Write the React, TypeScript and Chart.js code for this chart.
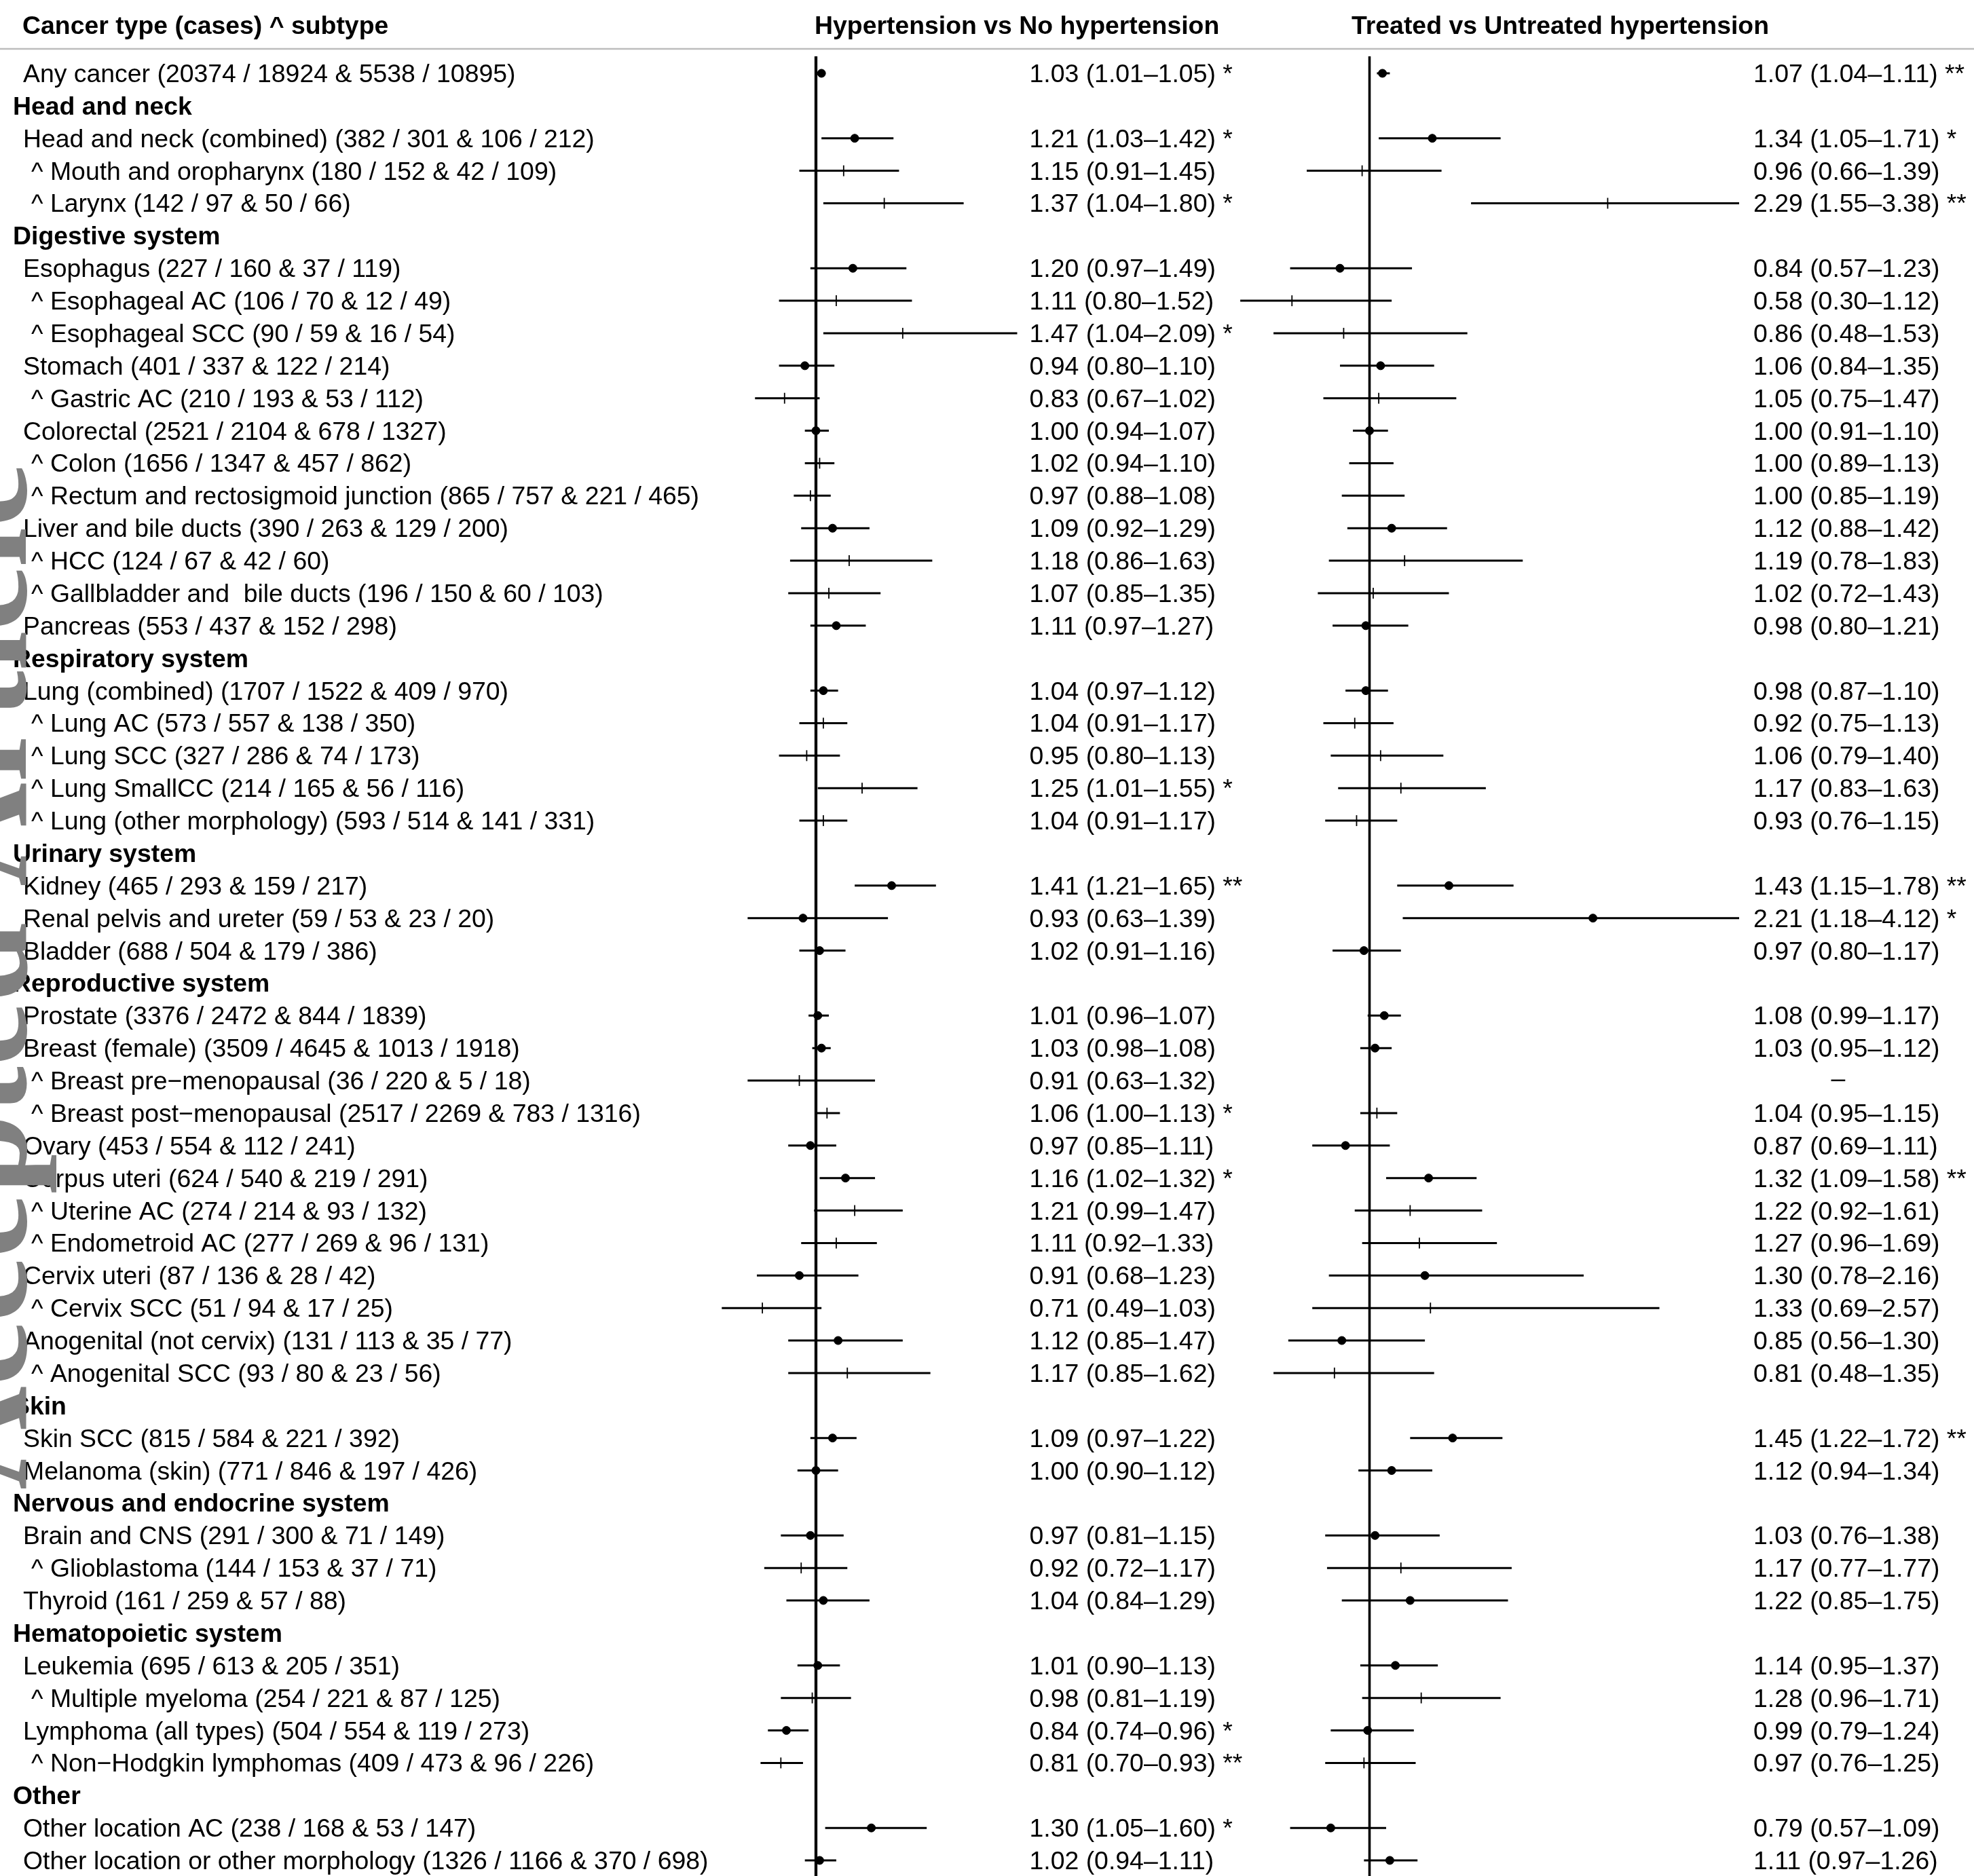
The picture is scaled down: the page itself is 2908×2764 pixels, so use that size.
import React, { useEffect, useRef } from 'react';
import { Chart, registerables } from 'chart.js';

Chart.register(...registerables);

// ---------------- DATA ----------------
const COLUMN_TITLE = 'Cancer type (cases) ^ subtype';
const PANEL_TITLES = ['Hypertension vs No hypertension', 'Treated vs Untreated hypertension'];
const REF_VALUE = 1;
const WATERMARK = 'Accepted Article';

// kind: h = group header, m = main cancer type, s = subtype (^)
const ROW_KINDS = [
  'm', 'h', 'm', 's', 's', 'h', 'm', 's', 's', 'm', 's', 'm', 's', 's', 'm', 's', 's', 'm',
  'h', 'm', 's', 's', 's', 's', 'h', 'm', 'm', 'm', 'h', 'm', 'm', 's', 's', 'm', 'm', 's',
  's', 'm', 's', 'm', 's', 'h', 'm', 'm', 'h', 'm', 's', 'm', 'h', 'm', 's', 'm', 's', 'h',
  'm', 'm',
];

const ROW_LABELS = [
  'Any cancer (20374 / 18924 & 5538 / 10895)',
  'Head and neck',
  'Head and neck (combined) (382 / 301 & 106 / 212)',
  'Mouth and oropharynx (180 / 152 & 42 / 109)',
  'Larynx (142 / 97 & 50 / 66)',
  'Digestive system',
  'Esophagus (227 / 160 & 37 / 119)',
  'Esophageal AC (106 / 70 & 12 / 49)',
  'Esophageal SCC (90 / 59 & 16 / 54)',
  'Stomach (401 / 337 & 122 / 214)',
  'Gastric AC (210 / 193 & 53 / 112)',
  'Colorectal (2521 / 2104 & 678 / 1327)',
  'Colon (1656 / 1347 & 457 / 862)',
  'Rectum and rectosigmoid junction (865 / 757 & 221 / 465)',
  'Liver and bile ducts (390 / 263 & 129 / 200)',
  'HCC (124 / 67 & 42 / 60)',
  'Gallbladder and  bile ducts (196 / 150 & 60 / 103)',
  'Pancreas (553 / 437 & 152 / 298)',
  'Respiratory system',
  'Lung (combined) (1707 / 1522 & 409 / 970)',
  'Lung AC (573 / 557 & 138 / 350)',
  'Lung SCC (327 / 286 & 74 / 173)',
  'Lung SmallCC (214 / 165 & 56 / 116)',
  'Lung (other morphology) (593 / 514 & 141 / 331)',
  'Urinary system',
  'Kidney (465 / 293 & 159 / 217)',
  'Renal pelvis and ureter (59 / 53 & 23 / 20)',
  'Bladder (688 / 504 & 179 / 386)',
  'Reproductive system',
  'Prostate (3376 / 2472 & 844 / 1839)',
  'Breast (female) (3509 / 4645 & 1013 / 1918)',
  'Breast pre\u2212menopausal (36 / 220 & 5 / 18)',
  'Breast post\u2212menopausal (2517 / 2269 & 783 / 1316)',
  'Ovary (453 / 554 & 112 / 241)',
  'Corpus uteri (624 / 540 & 219 / 291)',
  'Uterine AC (274 / 214 & 93 / 132)',
  'Endometroid AC (277 / 269 & 96 / 131)',
  'Cervix uteri (87 / 136 & 28 / 42)',
  'Cervix SCC (51 / 94 & 17 / 25)',
  'Anogenital (not cervix) (131 / 113 & 35 / 77)',
  'Anogenital SCC (93 / 80 & 23 / 56)',
  'Skin',
  'Skin SCC (815 / 584 & 221 / 392)',
  'Melanoma (skin) (771 / 846 & 197 / 426)',
  'Nervous and endocrine system',
  'Brain and CNS (291 / 300 & 71 / 149)',
  'Glioblastoma (144 / 153 & 37 / 71)',
  'Thyroid (161 / 259 & 57 / 88)',
  'Hematopoietic system',
  'Leukemia (695 / 613 & 205 / 351)',
  'Multiple myeloma (254 / 221 & 87 / 125)',
  'Lymphoma (all types) (504 / 554 & 119 / 273)',
  'Non\u2212Hodgkin lymphomas (409 / 473 & 96 / 226)',
  'Other',
  'Other location AC (238 / 168 & 53 / 147)',
  'Other location or other morphology (1326 / 1166 & 370 / 698)',
];

// Panel 1: Hypertension vs No hypertension
const HR1 = [1.03, null, 1.21, 1.15, 1.37, null, 1.20, 1.11, 1.47, 0.94, 0.83, 1.00, 1.02, 0.97, 1.09, 1.18, 1.07, 1.11,
  null, 1.04, 1.04, 0.95, 1.25, 1.04, null, 1.41, 0.93, 1.02, null, 1.01, 1.03, 0.91, 1.06, 0.97, 1.16, 1.21,
  1.11, 0.91, 0.71, 1.12, 1.17, null, 1.09, 1.00, null, 0.97, 0.92, 1.04, null, 1.01, 0.98, 0.84, 0.81, null,
  1.30, 1.02];
const LO1 = [1.01, null, 1.03, 0.91, 1.04, null, 0.97, 0.80, 1.04, 0.80, 0.67, 0.94, 0.94, 0.88, 0.92, 0.86, 0.85, 0.97,
  null, 0.97, 0.91, 0.80, 1.01, 0.91, null, 1.21, 0.63, 0.91, null, 0.96, 0.98, 0.63, 1.00, 0.85, 1.02, 0.99,
  0.92, 0.68, 0.49, 0.85, 0.85, null, 0.97, 0.90, null, 0.81, 0.72, 0.84, null, 0.90, 0.81, 0.74, 0.70, null,
  1.05, 0.94];
const HI1 = [1.05, null, 1.42, 1.45, 1.80, null, 1.49, 1.52, 2.09, 1.10, 1.02, 1.07, 1.10, 1.08, 1.29, 1.63, 1.35, 1.27,
  null, 1.12, 1.17, 1.13, 1.55, 1.17, null, 1.65, 1.39, 1.16, null, 1.07, 1.08, 1.32, 1.13, 1.11, 1.32, 1.47,
  1.33, 1.23, 1.03, 1.47, 1.62, null, 1.22, 1.12, null, 1.15, 1.17, 1.29, null, 1.13, 1.19, 0.96, 0.93, null,
  1.60, 1.11];
const SIG1 = ['*', '', '*', '', '*', '', '', '', '*', '', '', '', '', '', '', '', '', '',
  '', '', '', '', '*', '', '', '**', '', '', '', '', '', '', '*', '', '*', '',
  '', '', '', '', '', '', '', '', '', '', '', '', '', '', '', '*', '**', '',
  '*', ''];

// Panel 2: Treated vs Untreated hypertension
const HR2 = [1.07, null, 1.34, 0.96, 2.29, null, 0.84, 0.58, 0.86, 1.06, 1.05, 1.00, 1.00, 1.00, 1.12, 1.19, 1.02, 0.98,
  null, 0.98, 0.92, 1.06, 1.17, 0.93, null, 1.43, 2.21, 0.97, null, 1.08, 1.03, null, 1.04, 0.87, 1.32, 1.22,
  1.27, 1.30, 1.33, 0.85, 0.81, null, 1.45, 1.12, null, 1.03, 1.17, 1.22, null, 1.14, 1.28, 0.99, 0.97, null,
  0.79, 1.11];
const LO2 = [1.04, null, 1.05, 0.66, 1.55, null, 0.57, 0.30, 0.48, 0.84, 0.75, 0.91, 0.89, 0.85, 0.88, 0.78, 0.72, 0.80,
  null, 0.87, 0.75, 0.79, 0.83, 0.76, null, 1.15, 1.18, 0.80, null, 0.99, 0.95, null, 0.95, 0.69, 1.09, 0.92,
  0.96, 0.78, 0.69, 0.56, 0.48, null, 1.22, 0.94, null, 0.76, 0.77, 0.85, null, 0.95, 0.96, 0.79, 0.76, null,
  0.57, 0.97];
const HI2 = [1.11, null, 1.71, 1.39, 3.38, null, 1.23, 1.12, 1.53, 1.35, 1.47, 1.10, 1.13, 1.19, 1.42, 1.83, 1.43, 1.21,
  null, 1.10, 1.13, 1.40, 1.63, 1.15, null, 1.78, 4.12, 1.17, null, 1.17, 1.12, null, 1.15, 1.11, 1.58, 1.61,
  1.69, 2.16, 2.57, 1.30, 1.35, null, 1.72, 1.34, null, 1.38, 1.77, 1.75, null, 1.37, 1.71, 1.24, 1.25, null,
  1.09, 1.26];
const SIG2 = ['**', '', '*', '', '**', '', '', '', '', '', '', '', '', '', '', '', '', '',
  '', '', '', '', '', '', '', '**', '*', '', '', '', '', '', '', '', '**', '',
  '', '', '', '', '', '', '**', '', '', '', '', '', '', '', '', '', '', '',
  '', ''];

// ---------------- LAYOUT ----------------
const W = 2908;
const H = 2764;
const ROW0_Y = 108;
const ROW_STEP = 47.873;
const PLOT_RIGHT = 2562;
const PX_PER_UNIT = 272;
const X1_REF_PX = 1202;
const X2_REF_PX = 2017.5;
const REF_TOP_PX = 83;
const Y_MIN = -ROW0_Y / ROW_STEP;
const Y_MAX = Y_MIN + H / ROW_STEP;
const X1_MIN = REF_VALUE - X1_REF_PX / PX_PER_UNIT;
const X1_MAX = X1_MIN + PLOT_RIGHT / PX_PER_UNIT;
const X2_MIN = REF_VALUE - X2_REF_PX / PX_PER_UNIT;
const X2_MAX = X2_MIN + PLOT_RIGHT / PX_PER_UNIT;

const FONT = '"Liberation Sans", Arial, Helvetica, sans-serif';
const FS = 37.4;

function fmtCI(hr: number, lo: number, hi: number, sig: string) {
  return `${hr.toFixed(2)} (${lo.toFixed(2)}\u2013${hi.toFixed(2)})` + (sig ? ' ' + sig : '');
}

function pointData(hr: (number | null)[], kind: string) {
  const out: { x: number; y: number }[] = [];
  hr.forEach((v, i) => {
    if (v !== null && ROW_KINDS[i] === kind) out.push({ x: v, y: i });
  });
  return out;
}

function ciData(lo: (number | null)[], hi: (number | null)[]) {
  const out: { x: number; y: number }[] = [];
  lo.forEach((l, i) => {
    const h = hi[i];
    if (l !== null && h !== null) {
      out.push({ x: l, y: i });
      out.push({ x: h, y: i });
      out.push({ x: NaN, y: NaN });
    }
  });
  return out;
}

export default function App() {
  const ref = useRef<HTMLCanvasElement>(null);

  useEffect(() => {
    document.body.style.margin = '0';
    const canvas = ref.current!;
    const refTop = (REF_TOP_PX - ROW0_Y) / ROW_STEP;

    const textPlugin = {
      id: 'forestText',
      afterDraw(chart: any) {
        const ctx = chart.ctx as CanvasRenderingContext2D;
        const ys = chart.scales.y;
        ctx.save();
        // header separator
        ctx.strokeStyle = '#bdbdbd';
        ctx.lineWidth = 2.5;
        ctx.beginPath();
        ctx.moveTo(0, 72);
        ctx.lineTo(W, 72);
        ctx.stroke();

        ctx.fillStyle = '#000';
        ctx.textBaseline = 'alphabetic';
        ctx.textAlign = 'left';
        ctx.font = `bold ${FS}px ${FONT}`;
        ctx.fillText(COLUMN_TITLE, 33, 50);
        ctx.fillText(PANEL_TITLES[0], 1200, 50);
        ctx.fillText(PANEL_TITLES[1], 1991, 50);

        ROW_LABELS.forEach((label, i) => {
          const y = ys.getPixelForValue(i) + 13;
          const kind = ROW_KINDS[i];
          if (kind === 'h') {
            ctx.font = `bold ${FS}px ${FONT}`;
            ctx.fillText(label, 19, y);
            return;
          }
          ctx.font = `${FS}px ${FONT}`;
          if (kind === 's') ctx.fillText('^ ' + label, 46, y);
          else ctx.fillText(label, 34, y);
          const h1 = HR1[i], l1 = LO1[i], u1 = HI1[i];
          if (h1 !== null && l1 !== null && u1 !== null) {
            ctx.fillText(fmtCI(h1, l1, u1, SIG1[i]), 1516.5, y);
          }
          const h2 = HR2[i], l2 = LO2[i], u2 = HI2[i];
          if (h2 !== null && l2 !== null && u2 !== null) {
            ctx.fillText(fmtCI(h2, l2, u2, SIG2[i]), 2583, y);
          } else {
            ctx.textAlign = 'center';
            ctx.fillText('\u2013', 2708, y - 4);
            ctx.textAlign = 'left';
          }
        });

        // watermark
        ctx.translate(38, 2195);
        ctx.rotate(-Math.PI / 2);
        ctx.font = `bold 212px "Liberation Serif", "Times New Roman", serif`;
        ctx.fillStyle = '#808080';
        ctx.textBaseline = 'alphabetic';
        ctx.fillText(WATERMARK, 0, 0);
        ctx.restore();
      },
    };

    const circleStyle = {
      type: 'line' as const,
      showLine: false,
      pointStyle: 'circle',
      pointRadius: 6,
      pointBackgroundColor: '#000',
      pointBorderColor: '#000',
      pointBorderWidth: 1,
      yAxisID: 'y',
    };
    const tickStyle = {
      type: 'line' as const,
      showLine: false,
      pointStyle: 'line',
      pointRotation: 90,
      pointRadius: 8,
      pointBorderColor: '#000',
      pointBorderWidth: 1.8,
      yAxisID: 'y',
    };
    const ciStyle = {
      type: 'line' as const,
      showLine: true,
      spanGaps: false,
      borderColor: '#000',
      borderWidth: 3,
      borderCapStyle: 'butt' as const,
      pointRadius: 0,
      yAxisID: 'y',
    };

    const chart = new Chart(canvas, {
      type: 'line',
      data: {
        datasets: [
          { ...circleStyle, label: 'p1main', xAxisID: 'x1', data: pointData(HR1, 'm') },
          { ...tickStyle, label: 'p1sub', xAxisID: 'x1', data: pointData(HR1, 's') },
          { ...circleStyle, label: 'p2main', xAxisID: 'x2', data: pointData(HR2, 'm') },
          { ...tickStyle, label: 'p2sub', xAxisID: 'x2', data: pointData(HR2, 's') },
          { ...ciStyle, label: 'ci1', xAxisID: 'x1', data: ciData(LO1, HI1) },
          { ...ciStyle, label: 'ci2', xAxisID: 'x2', data: ciData(LO2, HI2) },
          {
            type: 'line', label: 'ref1', xAxisID: 'x1', yAxisID: 'y', borderColor: '#000', borderWidth: 4.3,
            pointRadius: 0, borderCapStyle: 'butt',
            data: [{ x: REF_VALUE, y: refTop }, { x: REF_VALUE, y: Y_MAX }],
          },
          {
            type: 'line', label: 'ref2', xAxisID: 'x2', yAxisID: 'y', borderColor: '#000', borderWidth: 3.6,
            pointRadius: 0, borderCapStyle: 'butt',
            data: [{ x: REF_VALUE, y: refTop }, { x: REF_VALUE, y: Y_MAX }],
          },
        ] as any,
      },
      options: {
        animation: false,
        responsive: false,
        maintainAspectRatio: false,
        devicePixelRatio: 1,
        events: [],
        layout: { autoPadding: false, padding: { left: 0, top: 0, bottom: 0, right: W - PLOT_RIGHT } },
        plugins: { legend: { display: false }, tooltip: { enabled: false } },
        scales: {
          x1: { type: 'linear', axis: 'x', min: X1_MIN, max: X1_MAX, display: false },
          x2: { type: 'linear', axis: 'x', min: X2_MIN, max: X2_MAX, display: false },
          y: { type: 'linear', reverse: true, min: Y_MIN, max: Y_MAX, display: false },
        },
      } as any,
      plugins: [textPlugin],
    });
    return () => chart.destroy();
  }, []);

  return (
    <div style={{ position: 'absolute', left: 0, top: 0, width: W, height: H, background: '#fff' }}>
      <canvas ref={ref} width={W} height={H} style={{ display: 'block', width: W, height: H }} />
    </div>
  );
}
